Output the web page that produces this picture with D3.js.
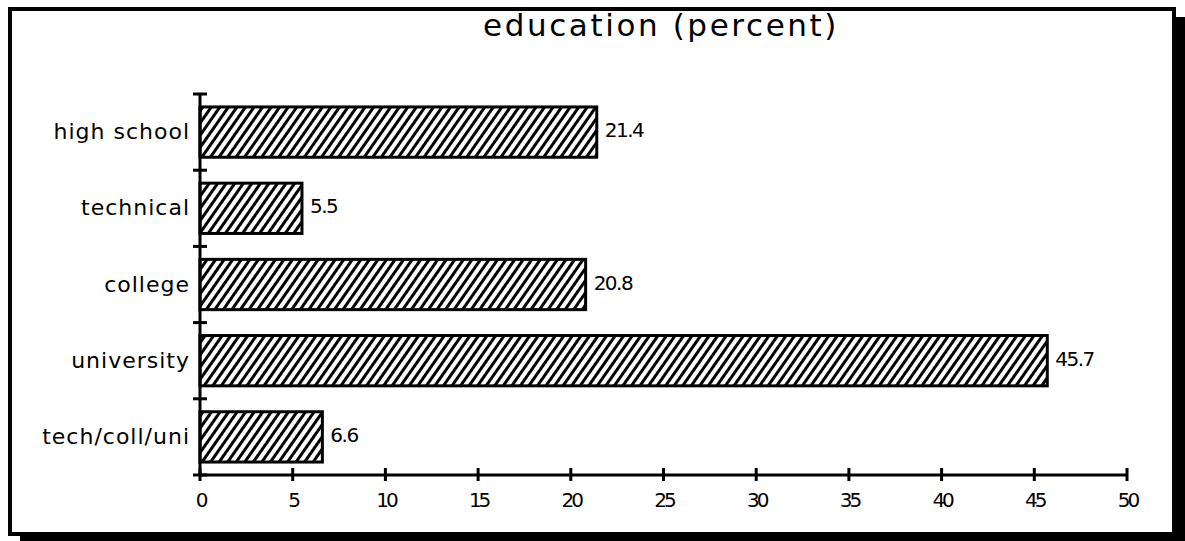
<!DOCTYPE html>
<html>
<head>
<meta charset="utf-8">
<script src="https://cdn.jsdelivr.net/npm/d3@7"></script>
<style>
  html, body { margin: 0; padding: 0; background: #fff; }
  svg { display: block; }
  text { font-family: "DejaVu Sans", sans-serif; fill: #000; }
</style>
</head>
<body>
<script>
// Education levels and their share (percent)
const categories = ["high school", "technical", "college", "university", "tech/coll/uni"];
const values = [21.4, 5.5, 20.8, 45.7, 6.6];
const xTicks = [0, 5, 10, 15, 20, 25, 30, 35, 40, 45, 50];
const title = "education (percent)";

const W = 1185, H = 541;
const svg = d3.select("body").append("svg").attr("width", W).attr("height", H);

// hatch fill for the bars
const defs = svg.append("defs");
const pat = defs.append("pattern")
  .attr("id", "hatch")
  .attr("patternUnits", "userSpaceOnUse")
  .attr("width", 7).attr("height", 7)
  .attr("patternTransform", "rotate(35)");
pat.append("rect").attr("width", 7).attr("height", 7).attr("fill", "#fff");
pat.append("line")
  .attr("x1", 3.5).attr("y1", -1).attr("x2", 3.5).attr("y2", 8)
  .attr("stroke", "#000").attr("stroke-width", 3);

// frame with a drop shadow on the right and bottom
svg.append("rect").attr("x", 1174).attr("y", 17).attr("width", 11).attr("height", H - 17).attr("fill", "#000");
svg.append("rect").attr("x", 20).attr("y", 532).attr("width", W - 20).attr("height", 9).attr("fill", "#000");
svg.append("rect")
  .attr("x", 10).attr("y", 9).attr("width", 1164).attr("height", 525)
  .attr("fill", "#fff").attr("stroke", "#000").attr("stroke-width", 4);

// scales
const x = d3.scaleLinear().domain([0, 50]).range([200, 1127]);
const y = d3.scaleBand().domain(categories).range([94, 475]).paddingInner(0.34).paddingOuter(0.17);

// title
svg.append("text")
  .attr("x", 661).attr("y", 36)
  .attr("text-anchor", "middle")
  .attr("font-size", 31)
  .attr("letter-spacing", 2.6)
  .text(title);

// bars
svg.append("g").selectAll("rect")
  .data(categories)
  .join("rect")
  .attr("x", x(0))
  .attr("y", d => y(d))
  .attr("width", (d, i) => x(values[i]) - x(0))
  .attr("height", y.bandwidth())
  .attr("fill", "url(#hatch)")
  .attr("stroke", "#000")
  .attr("stroke-width", 3);

// value labels
svg.append("g").selectAll("text")
  .data(categories)
  .join("text")
  .attr("x", (d, i) => x(values[i]) + 8)
  .attr("y", d => y(d) + y.bandwidth() / 2 + 5)
  .attr("font-size", 20)
  .attr("letter-spacing", -1.5)
  .text((d, i) => values[i]);

// category labels
svg.append("g").selectAll("text")
  .data(categories)
  .join("text")
  .attr("x", 190)
  .attr("y", d => y(d) + y.bandwidth() / 2 + 7)
  .attr("text-anchor", "end")
  .attr("font-size", 22)
  .attr("letter-spacing", 1)
  .text(d => d);

// y axis line with ticks at band boundaries
const yEdges = categories.map(d => y(d) - y.step() * y.paddingInner() / 2).concat([475]);
yEdges[0] = 94;
svg.append("line")
  .attr("x1", x(0)).attr("x2", x(0))
  .attr("y1", 94).attr("y2", 475)
  .attr("stroke", "#000").attr("stroke-width", 3);
svg.append("g").selectAll("line")
  .data(yEdges)
  .join("line")
  .attr("x1", x(0) - 7).attr("x2", x(0) + 7)
  .attr("y1", d => d).attr("y2", d => d)
  .attr("stroke", "#000").attr("stroke-width", 3);

// x axis: line, crossing ticks and labels
svg.append("line")
  .attr("x1", x(0)).attr("x2", x(50))
  .attr("y1", 475).attr("y2", 475)
  .attr("stroke", "#000").attr("stroke-width", 3);
svg.append("g").selectAll("line")
  .data(xTicks)
  .join("line")
  .attr("x1", d => x(d)).attr("x2", d => x(d))
  .attr("y1", 468).attr("y2", 481)
  .attr("stroke", "#000").attr("stroke-width", 3);

const xAxis = d3.axisBottom(x).tickValues(xTicks).tickSize(0).tickPadding(0).tickFormat(d3.format("d"));
const gx = svg.append("g").attr("transform", "translate(0,475)").call(xAxis);
gx.select(".domain").remove();
gx.selectAll("text")
  .attr("y", 32)
  .attr("dy", 0)
  .attr("font-size", 20)
  .attr("font-family", "DejaVu Sans, sans-serif")
  .attr("letter-spacing", -3)
  .attr("fill", "#000");
</script>
</body>
</html>
